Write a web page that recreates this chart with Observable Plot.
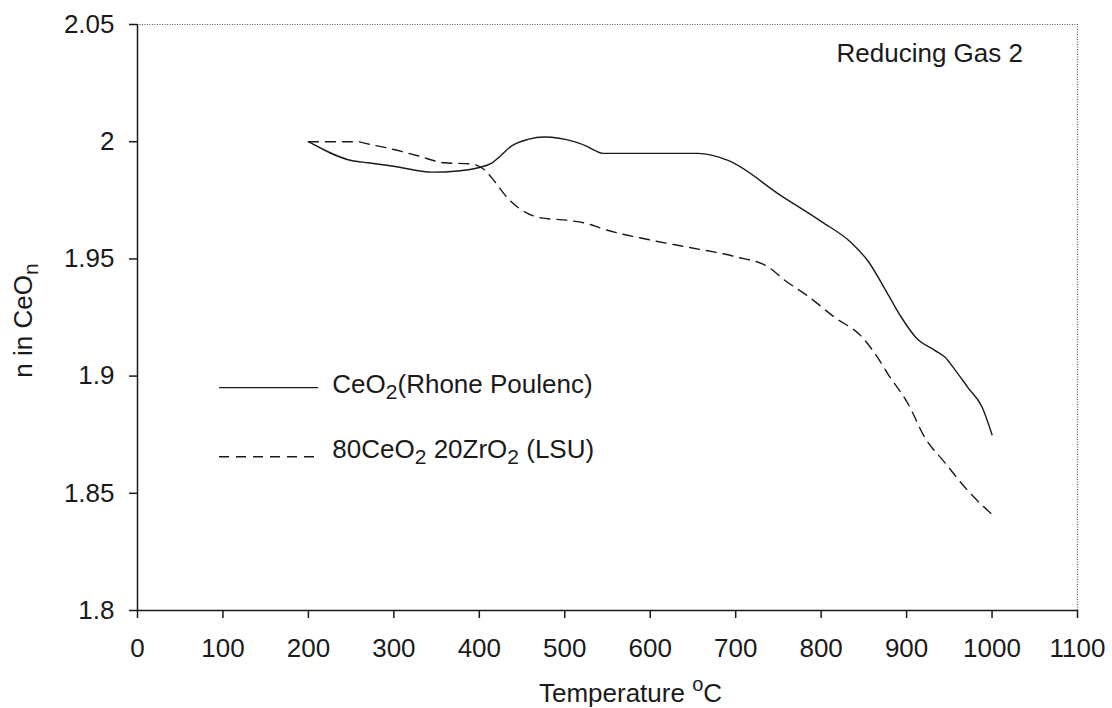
<!DOCTYPE html>
<html>
<head>
<meta charset="utf-8">
<script src="https://cdn.jsdelivr.net/npm/d3@7"></script>
<script src="https://cdn.jsdelivr.net/npm/@observablehq/plot@0.6"></script>
<style>
  html, body { margin: 0; padding: 0; background: #fff; }
  svg { display: block; }
</style>
</head>
<body>
<div id="chart"></div>
<script>
// ---- data ----
const seriesNames = ["CeO_{2}(Rhone Poulenc)", "80CeO_{2} 20ZrO_{2} (LSU)"];

const tempCeO2 = [200, 250, 270, 300, 345, 375, 400, 415, 425, 437, 457, 476, 511, 526, 535, 545, 600, 656, 691, 753, 800, 835, 855, 878, 894, 912, 933, 945, 956, 972, 988, 1000];
const nCeO2    = [2.000, 1.992, 1.991, 1.9895, 1.987, 1.9875, 1.989, 1.991, 1.994, 1.998, 2.001, 2.002, 2.000, 1.998, 1.9963, 1.995, 1.995, 1.995, 1.992, 1.977, 1.966, 1.957, 1.949, 1.935, 1.925, 1.916, 1.911, 1.908, 1.903, 1.895, 1.887, 1.875];

const tempCZ = [200, 257, 270, 296, 328, 359, 390, 406, 418, 433, 449, 472, 503, 527, 543, 601, 644, 699, 738, 757, 785, 816, 847, 866, 878, 902, 921, 945, 972, 1000];
const nCZ    = [2.000, 2.000, 1.999, 1.997, 1.994, 1.991, 1.9905, 1.988, 1.983, 1.976, 1.971, 1.9675, 1.9665, 1.965, 1.963, 1.958, 1.955, 1.951, 1.9466, 1.941, 1.934, 1.925, 1.917, 1.908, 1.901, 1.888, 1.874, 1.863, 1.851, 1.841];

const xTicks = [0, 100, 200, 300, 400, 500, 600, 700, 800, 900, 1000, 1100];
const yTicks = [1.8, 1.85, 1.9, 1.95, 2, 2.05];
const xDomain = [0, 1100];
const yDomain = [1.8, 2.05];

const xLabel = "Temperature ^{o}C";
const yLabel = "n in CeO_{n}";
const annotation = "Reducing Gas 2";

// ---- build tables ----
const ceo2 = tempCeO2.map((t, i) => ({t, n: nCeO2[i]}));
const cz = tempCZ.map((t, i) => ({t, n: nCZ[i]}));

const ink = "#1a1a1a";
const dash = "10,7";

const chart = Plot.plot({
  width: 1112,
  height: 708,
  marginLeft: 137,
  marginRight: 35,
  marginTop: 24,
  marginBottom: 98,
  style: {fontSize: "26px", fontFamily: "'Liberation Sans', Arial, sans-serif", color: ink, background: "#fff"},
  x: {domain: xDomain, label: null},
  y: {domain: yDomain, label: null},
  marks: [
    // dotted top/right border
    Plot.ruleY([yDomain[1]], {stroke: "#555", strokeWidth: 1.2, strokeDasharray: "1,1.5"}),
    Plot.ruleX([xDomain[1]], {stroke: "#555", strokeWidth: 1.2, strokeDasharray: "1,1.5"}),
    Plot.axisX({ticks: xTicks, tickSize: 8, tickPadding: 20, tickFormat: d => String(d), stroke: ink, strokeWidth: 1.5}),
    Plot.axisY({ticks: yTicks, tickSize: 8, tickPadding: 15, tickFormat: d => String(+d.toFixed(2)), stroke: ink, strokeWidth: 1.5}),
    Plot.ruleX([xDomain[0]], {stroke: ink, strokeWidth: 1.5}),
    Plot.ruleY([yDomain[0]], {stroke: ink, strokeWidth: 1.5}),
    // series
    Plot.line(ceo2, {x: "t", y: "n", stroke: ink, strokeWidth: 1.4, curve: "monotone-x"}),
    Plot.line(cz, {x: "t", y: "n", stroke: ink, strokeWidth: 1.4, strokeDasharray: dash, curve: "monotone-x"}),
    // legend
    Plot.ruleY([seriesNames[0]], {y: () => 1.8951, x1: 96, x2: 212, stroke: ink, strokeWidth: 1.4}),
    Plot.ruleY([seriesNames[1]], {y: () => 1.8656, x1: 96, x2: 212, stroke: ink, strokeWidth: 1.4, strokeDasharray: dash}),
    Plot.text([seriesNames[0]], {x: 228, y: () => 1.8965, text: d => d, textAnchor: "start", lineAnchor: "middle", fill: ink}),
    Plot.text([seriesNames[1]], {x: 228, y: () => 1.8684, text: d => d, textAnchor: "start", lineAnchor: "middle", fill: ink}),
    // annotation
    Plot.text([annotation], {x: 818, y: () => 2.0376, text: d => d, textAnchor: "start", lineAnchor: "middle", fill: ink}),
    // axis titles
    Plot.text([xLabel], {frameAnchor: "bottom", dy: 83, dx: 23, text: d => d, textAnchor: "middle", lineAnchor: "middle", fill: ink}),
    Plot.text([yLabel], {frameAnchor: "left", dx: -114, dy: 3, rotate: -90, text: d => d, textAnchor: "middle", lineAnchor: "middle", fill: ink})
  ]
});

// rich text: _{..} subscript, ^{..} superscript
d3.select(chart).selectAll("text").each(function() {
  const s = this.textContent;
  if (!/[_^]\{/.test(s)) return;
  const el = d3.select(this);
  el.text(null);
  const re = /([_^])\{([^}]*)\}|([^_^]+)/g;
  let m, shift = 0;
  while ((m = re.exec(s))) {
    if (m[3] !== undefined) {
      el.append("tspan").attr("dy", -shift).text(m[3]);
      shift = 0;
    } else {
      const sh = m[1] === "_" ? 6 : -11;
      el.append("tspan").attr("dy", sh - shift).attr("font-size", m[1] === "_" ? "21px" : "20px").text(m[2]);
      shift = sh;
    }
  }
});

document.getElementById("chart").appendChild(chart);
</script>
</body>
</html>
